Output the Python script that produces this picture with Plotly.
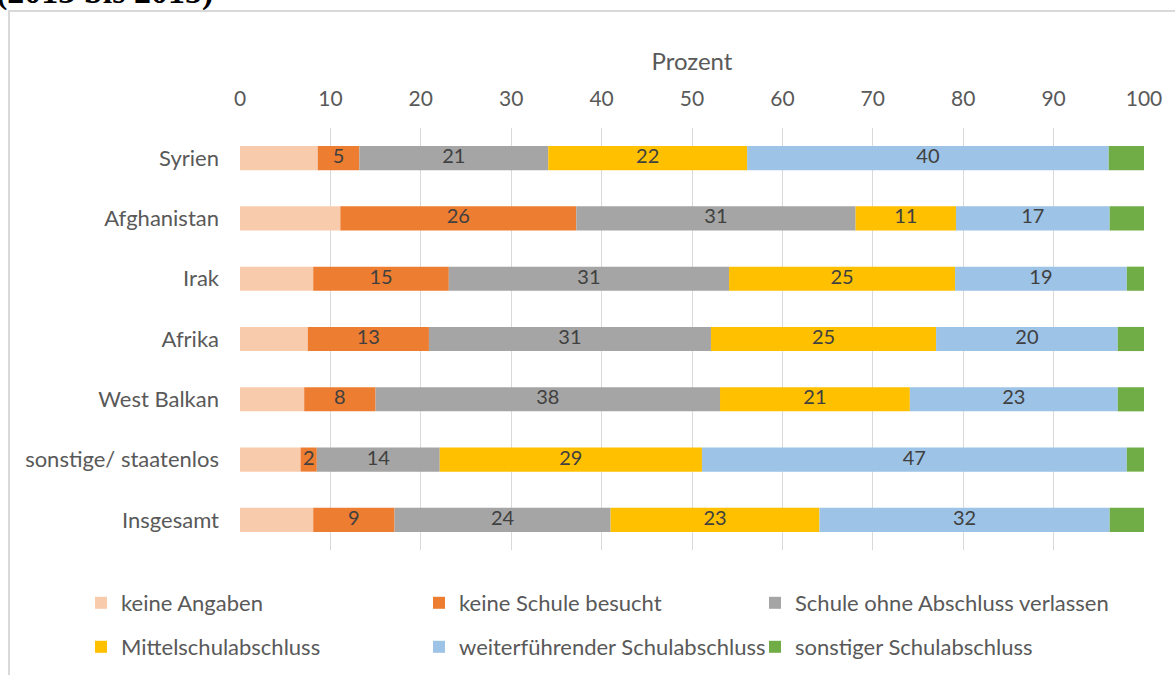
import plotly.graph_objects as go

categories = ["Syrien", "Afghanistan", "Irak", "Afrika", "West Balkan", "sonstige/ staatenlos", "Insgesamt"]

keine_angaben = [8.6, 11.1, 8.1, 7.5, 7.1, 6.7, 8.1]
keine_schule = [4.6, 26.1, 15.0, 13.4, 7.9, 1.8, 9.0]
ohne_abschluss = [20.9, 30.9, 31.0, 31.2, 38.1, 13.6, 23.9]
mittelschule = [22.0, 11.1, 25.0, 24.9, 21.0, 29.0, 23.1]
weiterfuehrend = [40.0, 17.0, 19.0, 20.1, 23.0, 47.0, 32.1]
sonstiger = [3.9, 3.8, 1.9, 2.9, 2.9, 1.9, 3.8]

series = [
    ("keine Angaben", keine_angaben, "#F8CBAD", False),
    ("keine Schule besucht", keine_schule, "#ED7D31", True),
    ("Schule ohne Abschluss verlassen", ohne_abschluss, "#A5A5A5", True),
    ("Mittelschulabschluss", mittelschule, "#FFC000", True),
    ("weiterführender Schulabschluss", weiterfuehrend, "#9DC3E6", True),
    ("sonstiger Schulabschluss", sonstiger, "#70AD47", False),
]

FONT = "Lato, 'Open Sans', sans-serif"
TXT = "#595959"

# legend grid (pixel positions of each entry's left edge and row centre)
leg_cols = [81, 419, 755]
leg_rows = [603, 647]

fig = go.Figure()
base = [0.0] * len(categories)
label_x, label_y, label_t = [], [], []
legends = {}
for i, (name, vals, color, labeled) in enumerate(series):
    leg_name = "legend" if i == 0 else f"legend{i + 1}"
    fig.add_trace(go.Bar(
        name=name, y=categories, x=vals, base=base, orientation="h",
        marker=dict(color=color, line=dict(width=0)),
        legend=leg_name, hoverinfo="skip",
    ))
    legends[leg_name] = dict(
        orientation="v",
        x=(leg_cols[i % 3] - 240) / 904, xanchor="left",
        y=(550 - leg_rows[i // 3]) / 422, yanchor="middle",
        font=dict(family=FONT, size=22, color=TXT), bgcolor="rgba(0,0,0,0)",
    )
    if labeled:
        for c, b, v in zip(categories, base, vals):
            label_x.append(b + v / 2)
            label_y.append(c)
            label_t.append(str(int(round(v))))
    base = [b + v for b, v in zip(base, vals)]

fig.add_trace(go.Scatter(
    x=label_x, y=label_y, text=label_t, mode="text",
    textfont=dict(family=FONT, size=20, color="#404040"),
    showlegend=False, hoverinfo="skip", cliponaxis=False,
))

fig.update_layout(
    width=1175, height=675,
    margin=dict(l=240, r=31, t=128, b=125, autoexpand=False),
    paper_bgcolor="white", plot_bgcolor="white",
    barmode="overlay", bargap=0.6,
    font=dict(family=FONT, size=20, color=TXT),
    xaxis=dict(
        side="top", range=[0, 100], dtick=10, tick0=0,
        showgrid=True, gridcolor="#d9d9d9", gridwidth=1.3,
        zeroline=False, showline=False, ticks="",
        ticklabelstandoff=17,
        tickfont=dict(family=FONT, size=21, color=TXT),
        title=dict(text="Prozent", font=dict(family=FONT, size=24, color=TXT), standoff=7),
    ),
    yaxis=dict(
        autorange="reversed", showgrid=False, zeroline=False, showline=False,
        ticks="", ticklabelstandoff=20,
        tickfont=dict(family=FONT, size=22, color=TXT),
    ),
    shapes=[dict(
        type="rect", xref="paper", yref="paper",
        x0=(9 - 240) / 904, x1=(1190 - 240) / 904,
        y0=(550 - 690) / 422, y1=(550 - 11) / 422,
        line=dict(color="#d9d9d9", width=2), fillcolor="rgba(0,0,0,0)", layer="below",
    )],
    annotations=[dict(
        text="<b>(2013 bis 2015)</b>", xref="paper", yref="paper",
        x=(-6 - 240) / 904, y=(550 - 13) / 422, xanchor="left", yanchor="bottom",
        showarrow=False, font=dict(family="Liberation Serif", size=34, color="black"),
    )],
    **legends,
)

fig.write_html("out.html", config={"displayModeBar": False},
               post_script="document.body.style.margin='0';")
